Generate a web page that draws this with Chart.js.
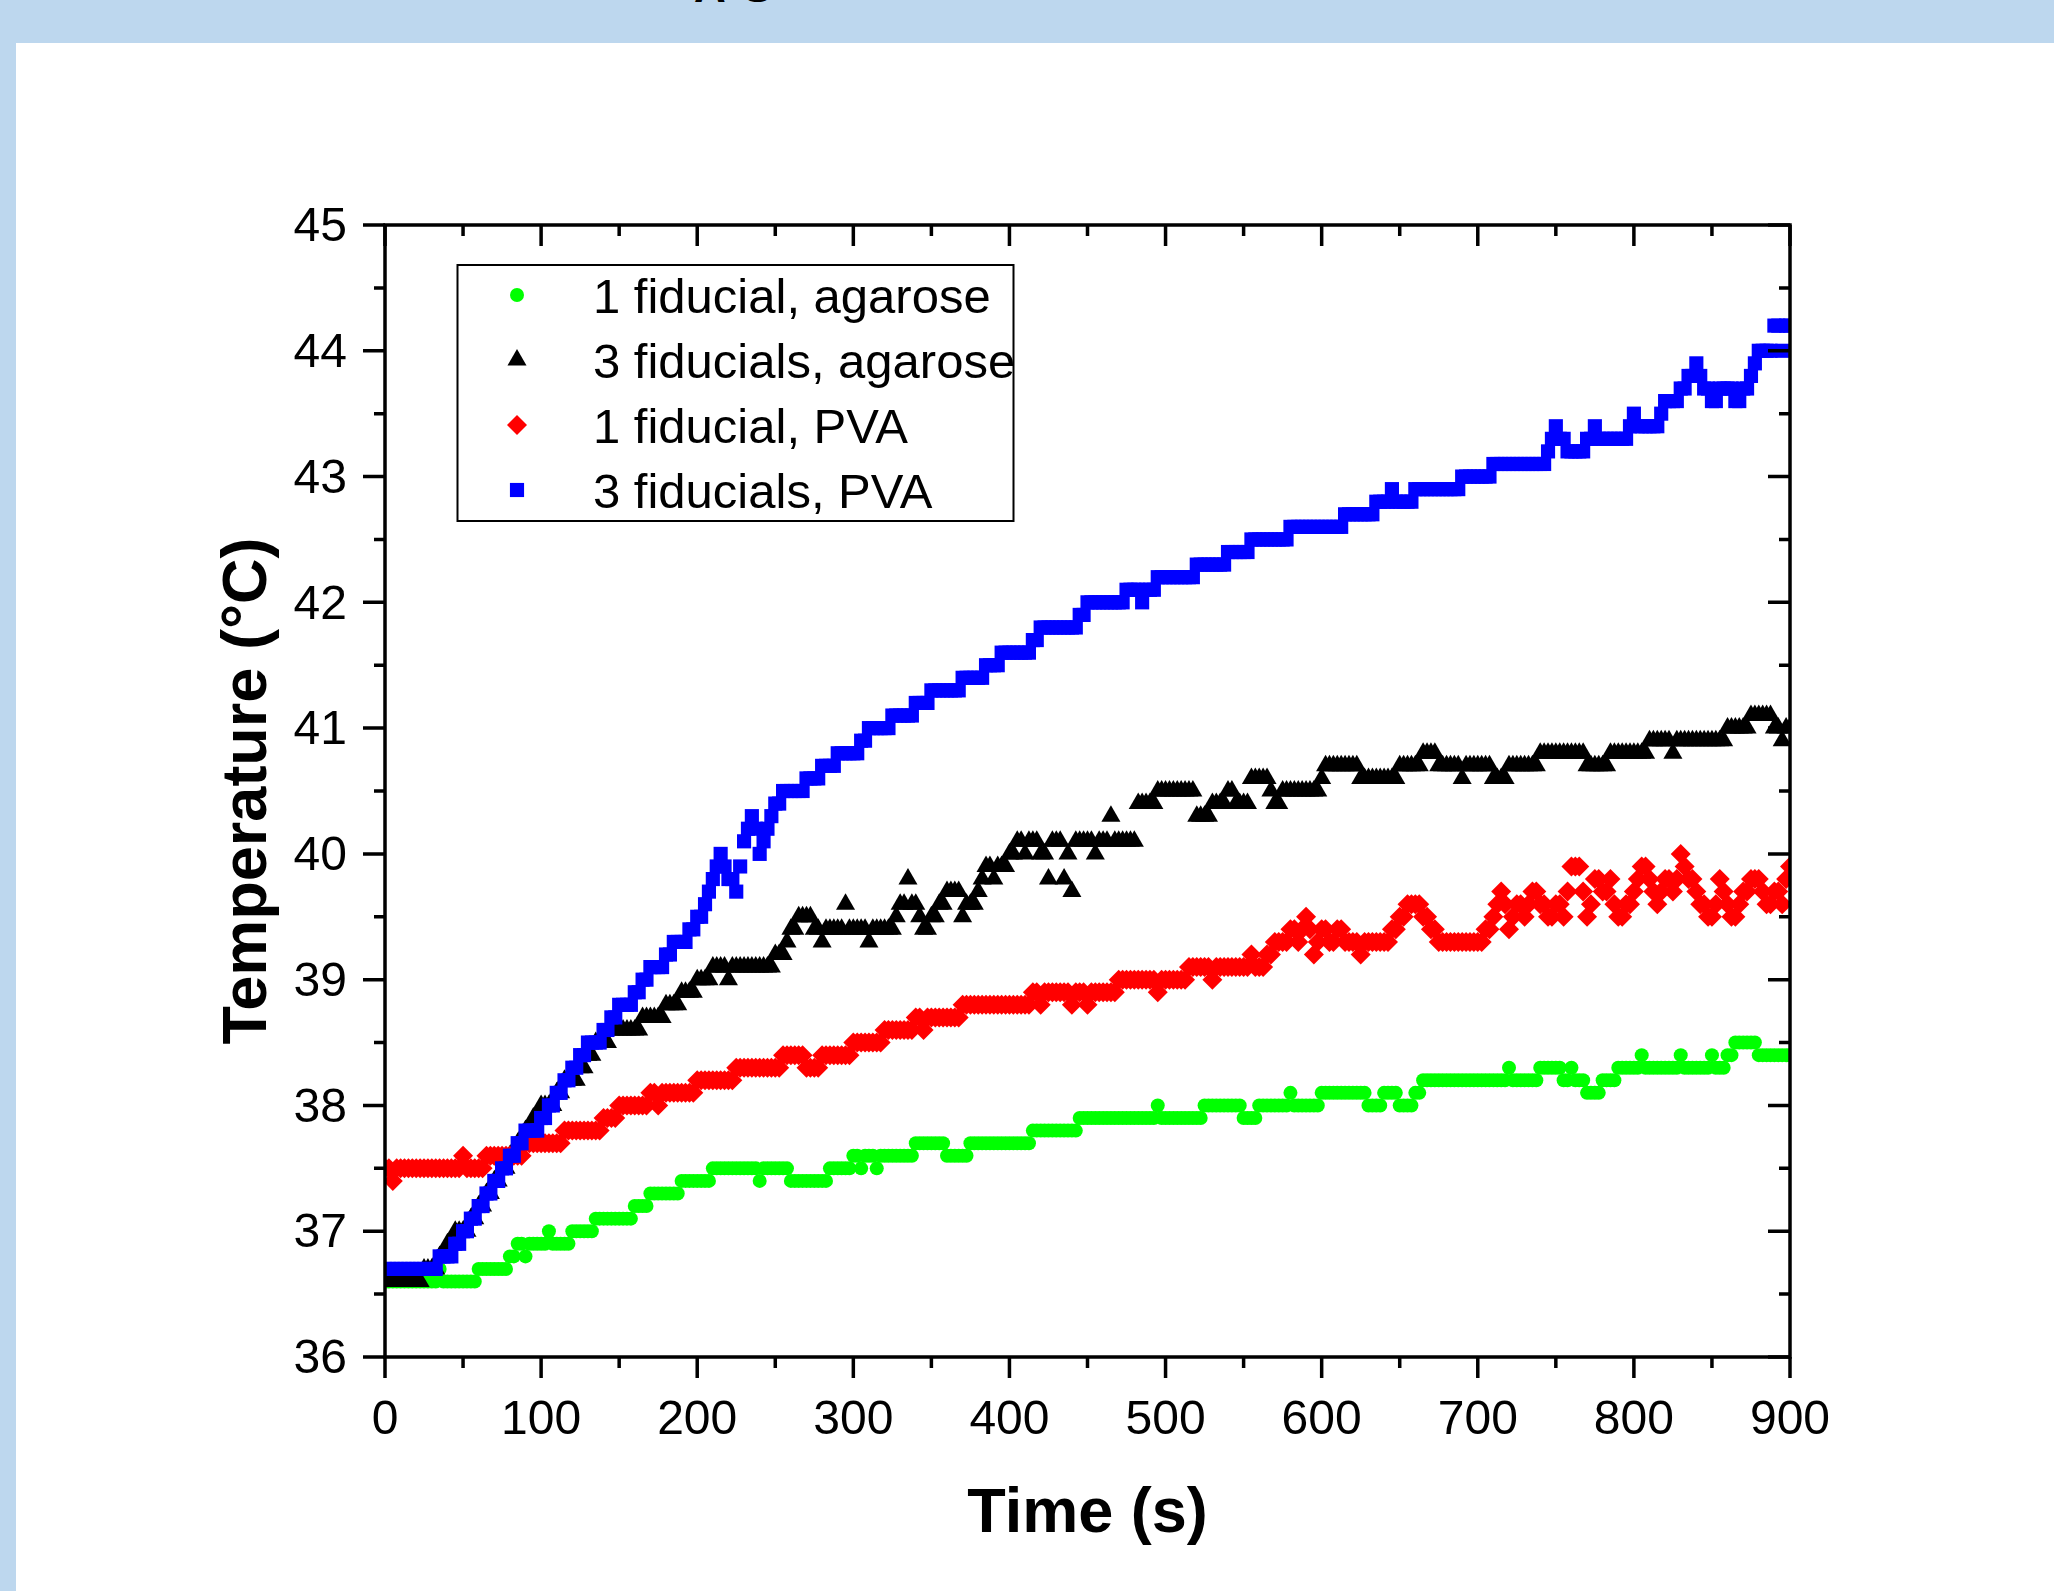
<!DOCTYPE html>
<html>
<head>
<meta charset="utf-8">
<script src="https://cdn.jsdelivr.net/npm/chart.js@4.4.1/dist/chart.umd.min.js"></script>
<style>
  html, body { margin: 0; padding: 0; }
  body { width: 2054px; height: 1591px; background: #bdd7ee; position: relative; overflow: hidden; }
  #sheet { position: absolute; left: 16px; top: 43px; right: 0; bottom: 0; background: #fff; }
  #cut { position: absolute; left: 694px; top: -38px; font: bold 44px "Liberation Sans", Arial, sans-serif; letter-spacing: 17px; color: #000; line-height: 50px; }
  #chart { position: absolute; left: 0; top: 0; }
</style>
</head>
<body>
<div id="sheet"></div>
<div id="cut">AS</div>
<canvas id="chart" width="2054" height="1591"></canvas>
<script>
// sample times (s), one row per minute
var times = [
  0,2.5,5,7.5,10,12.5,15,17.5,20,22.5,25,27.5,30,32.5,35,37.5,40,42.5,45,47.5,50,52.5,55,57.5,
  60,62.5,65,67.5,70,72.5,75,77.5,80,82.5,85,87.5,90,92.5,95,97.5,100,102.5,105,107.5,110,112.5,115,117.5,
  120,122.5,125,127.5,130,132.5,135,137.5,140,142.5,145,147.5,150,152.5,155,157.5,160,162.5,165,167.5,170,172.5,175,177.5,
  180,182.5,185,187.5,190,192.5,195,197.5,200,202.5,205,207.5,210,212.5,215,217.5,220,222.5,225,227.5,230,232.5,235,237.5,
  240,242.5,245,247.5,250,252.5,255,257.5,260,262.5,265,267.5,270,272.5,275,277.5,280,282.5,285,287.5,290,292.5,295,297.5,
  300,302.5,305,307.5,310,312.5,315,317.5,320,322.5,325,327.5,330,332.5,335,337.5,340,342.5,345,347.5,350,352.5,355,357.5,
  360,362.5,365,367.5,370,372.5,375,377.5,380,382.5,385,387.5,390,392.5,395,397.5,400,402.5,405,407.5,410,412.5,415,417.5,
  420,422.5,425,427.5,430,432.5,435,437.5,440,442.5,445,447.5,450,452.5,455,457.5,460,462.5,465,467.5,470,472.5,475,477.5,
  480,482.5,485,487.5,490,492.5,495,497.5,500,502.5,505,507.5,510,512.5,515,517.5,520,522.5,525,527.5,530,532.5,535,537.5,
  540,542.5,545,547.5,550,552.5,555,557.5,560,562.5,565,567.5,570,572.5,575,577.5,580,582.5,585,587.5,590,592.5,595,597.5,
  600,602.5,605,607.5,610,612.5,615,617.5,620,622.5,625,627.5,630,632.5,635,637.5,640,642.5,645,647.5,650,652.5,655,657.5,
  660,662.5,665,667.5,670,672.5,675,677.5,680,682.5,685,687.5,690,692.5,695,697.5,700,702.5,705,707.5,710,712.5,715,717.5,
  720,722.5,725,727.5,730,732.5,735,737.5,740,742.5,745,747.5,750,752.5,755,757.5,760,762.5,765,767.5,770,772.5,775,777.5,
  780,782.5,785,787.5,790,792.5,795,797.5,800,802.5,805,807.5,810,812.5,815,817.5,820,822.5,825,827.5,830,832.5,835,837.5,
  840,842.5,845,847.5,850,852.5,855,857.5,860,862.5,865,867.5,870,872.5,875,877.5,880,882.5,885,887.5,890,892.5,895,897.5,
  900
];

// 1 fiducial, agarose
var oneFidAgarose = [
  36.6,36.6,36.6,36.6,36.6,36.6,36.6,36.6,36.6,36.6,36.6,36.6,36.6,36.6,36.7,36.6,36.6,36.6,36.6,36.6,36.6,36.6,36.6,36.6,
  36.7,36.7,36.7,36.7,36.7,36.7,36.7,36.7,36.8,36.8,36.9,36.9,36.8,36.9,36.9,36.9,36.9,36.9,37.0,36.9,36.9,36.9,36.9,36.9,
  37.0,37.0,37.0,37.0,37.0,37.0,37.1,37.1,37.1,37.1,37.1,37.1,37.1,37.1,37.1,37.1,37.2,37.2,37.2,37.2,37.3,37.3,37.3,37.3,
  37.3,37.3,37.3,37.3,37.4,37.4,37.4,37.4,37.4,37.4,37.4,37.4,37.5,37.5,37.5,37.5,37.5,37.5,37.5,37.5,37.5,37.5,37.5,37.5,
  37.4,37.5,37.5,37.5,37.5,37.5,37.5,37.5,37.4,37.4,37.4,37.4,37.4,37.4,37.4,37.4,37.4,37.4,37.5,37.5,37.5,37.5,37.5,37.5,
  37.6,37.6,37.5,37.6,37.6,37.6,37.5,37.6,37.6,37.6,37.6,37.6,37.6,37.6,37.6,37.6,37.7,37.7,37.7,37.7,37.7,37.7,37.7,37.7,
  37.6,37.6,37.6,37.6,37.6,37.6,37.7,37.7,37.7,37.7,37.7,37.7,37.7,37.7,37.7,37.7,37.7,37.7,37.7,37.7,37.7,37.7,37.8,37.8,
  37.8,37.8,37.8,37.8,37.8,37.8,37.8,37.8,37.8,37.8,37.9,37.9,37.9,37.9,37.9,37.9,37.9,37.9,37.9,37.9,37.9,37.9,37.9,37.9,
  37.9,37.9,37.9,37.9,37.9,37.9,38.0,37.9,37.9,37.9,37.9,37.9,37.9,37.9,37.9,37.9,37.9,37.9,38.0,38.0,38.0,38.0,38.0,38.0,
  38.0,38.0,38.0,38.0,37.9,37.9,37.9,37.9,38.0,38.0,38.0,38.0,38.0,38.0,38.0,38.0,38.1,38.0,38.0,38.0,38.0,38.0,38.0,38.0,
  38.1,38.1,38.1,38.1,38.1,38.1,38.1,38.1,38.1,38.1,38.1,38.1,38.0,38.0,38.0,38.0,38.1,38.1,38.1,38.1,38.0,38.0,38.0,38.0,
  38.1,38.1,38.2,38.2,38.2,38.2,38.2,38.2,38.2,38.2,38.2,38.2,38.2,38.2,38.2,38.2,38.2,38.2,38.2,38.2,38.2,38.2,38.2,38.2,
  38.3,38.2,38.2,38.2,38.2,38.2,38.2,38.2,38.3,38.3,38.3,38.3,38.3,38.3,38.2,38.2,38.3,38.2,38.2,38.2,38.1,38.1,38.1,38.1,
  38.2,38.2,38.2,38.2,38.3,38.3,38.3,38.3,38.3,38.3,38.4,38.3,38.3,38.3,38.3,38.3,38.3,38.3,38.3,38.3,38.4,38.3,38.3,38.3,
  38.3,38.3,38.3,38.3,38.4,38.3,38.3,38.3,38.4,38.4,38.5,38.5,38.5,38.5,38.5,38.5,38.4,38.4,38.4,38.4,38.4,38.4,38.4,38.4,
  38.4
];

// 3 fiducials, agarose
var threeFidAgarose = [
  36.6,36.6,36.6,36.6,36.6,36.6,36.6,36.6,36.6,36.6,36.7,36.7,36.7,36.7,36.8,36.8,36.9,36.9,37.0,37.0,37.0,37.0,37.1,37.1,
  37.2,37.2,37.3,37.3,37.4,37.4,37.5,37.5,37.6,37.6,37.7,37.7,37.8,37.8,37.9,37.9,38.0,38.0,38.0,38.0,38.1,38.1,38.2,38.2,
  38.2,38.2,38.3,38.3,38.4,38.4,38.5,38.5,38.5,38.5,38.6,38.6,38.6,38.6,38.6,38.6,38.6,38.6,38.7,38.7,38.7,38.7,38.7,38.7,
  38.8,38.8,38.8,38.8,38.9,38.9,38.9,38.9,39.0,39.0,39.0,39.0,39.1,39.1,39.1,39.1,39.0,39.1,39.1,39.1,39.1,39.1,39.1,39.1,
  39.1,39.1,39.1,39.1,39.2,39.2,39.2,39.3,39.4,39.4,39.5,39.5,39.5,39.5,39.4,39.4,39.3,39.4,39.4,39.4,39.4,39.4,39.6,39.4,
  39.4,39.4,39.4,39.4,39.3,39.4,39.4,39.4,39.4,39.4,39.4,39.5,39.6,39.6,39.8,39.6,39.6,39.5,39.4,39.4,39.5,39.5,39.6,39.6,
  39.7,39.7,39.7,39.7,39.5,39.6,39.6,39.6,39.7,39.8,39.9,39.9,39.8,39.9,39.9,39.9,40.0,40.0,40.1,40.1,40.0,40.1,40.1,40.1,
  40.0,40.0,39.8,40.1,40.1,40.1,39.8,40.0,39.7,40.1,40.1,40.1,40.1,40.1,40.0,40.1,40.1,40.1,40.3,40.1,40.1,40.1,40.1,40.1,
  40.1,40.4,40.4,40.4,40.4,40.4,40.5,40.5,40.5,40.5,40.5,40.5,40.5,40.5,40.5,40.5,40.3,40.3,40.3,40.3,40.4,40.4,40.4,40.4,
  40.5,40.5,40.4,40.4,40.4,40.4,40.6,40.6,40.6,40.6,40.6,40.5,40.4,40.4,40.5,40.5,40.5,40.5,40.5,40.5,40.5,40.5,40.5,40.5,
  40.6,40.7,40.7,40.7,40.7,40.7,40.7,40.7,40.7,40.7,40.6,40.6,40.6,40.6,40.6,40.6,40.6,40.6,40.6,40.6,40.7,40.7,40.7,40.7,
  40.7,40.7,40.8,40.8,40.8,40.8,40.7,40.7,40.7,40.7,40.7,40.7,40.6,40.7,40.7,40.7,40.7,40.7,40.7,40.7,40.6,40.6,40.6,40.6,
  40.7,40.7,40.7,40.7,40.7,40.7,40.7,40.7,40.8,40.8,40.8,40.8,40.8,40.8,40.8,40.8,40.8,40.8,40.8,40.8,40.7,40.7,40.7,40.7,
  40.7,40.7,40.8,40.8,40.8,40.8,40.8,40.8,40.8,40.8,40.8,40.8,40.9,40.9,40.9,40.9,40.9,40.9,40.8,40.9,40.9,40.9,40.9,40.9,
  40.9,40.9,40.9,40.9,40.9,40.9,40.9,40.9,41.0,41.0,41.0,41.0,41.0,41.0,41.1,41.1,41.1,41.1,41.1,41.1,41.0,41.0,40.9,41.0,
  41.0
];

// 1 fiducial, PVA
var oneFidPva = [
  37.5,37.5,37.4,37.5,37.5,37.5,37.5,37.5,37.5,37.5,37.5,37.5,37.5,37.5,37.5,37.5,37.5,37.5,37.5,37.5,37.6,37.5,37.5,37.5,
  37.5,37.5,37.6,37.6,37.6,37.6,37.6,37.6,37.6,37.6,37.6,37.6,37.7,37.7,37.7,37.7,37.7,37.7,37.7,37.7,37.7,37.7,37.8,37.8,
  37.8,37.8,37.8,37.8,37.8,37.8,37.8,37.8,37.9,37.9,37.9,37.9,38.0,38.0,38.0,38.0,38.0,38.0,38.0,38.0,38.1,38.1,38.0,38.1,
  38.1,38.1,38.1,38.1,38.1,38.1,38.1,38.1,38.2,38.2,38.2,38.2,38.2,38.2,38.2,38.2,38.2,38.2,38.3,38.3,38.3,38.3,38.3,38.3,
  38.3,38.3,38.3,38.3,38.3,38.3,38.4,38.4,38.4,38.4,38.4,38.4,38.3,38.3,38.3,38.3,38.4,38.4,38.4,38.4,38.4,38.4,38.4,38.4,
  38.5,38.5,38.5,38.5,38.5,38.5,38.5,38.5,38.6,38.6,38.6,38.6,38.6,38.6,38.6,38.6,38.7,38.7,38.6,38.7,38.7,38.7,38.7,38.7,
  38.7,38.7,38.7,38.7,38.8,38.8,38.8,38.8,38.8,38.8,38.8,38.8,38.8,38.8,38.8,38.8,38.8,38.8,38.8,38.8,38.8,38.8,38.9,38.9,
  38.8,38.9,38.9,38.9,38.9,38.9,38.9,38.9,38.8,38.9,38.9,38.9,38.8,38.9,38.9,38.9,38.9,38.9,38.9,38.9,39.0,39.0,39.0,39.0,
  39.0,39.0,39.0,39.0,39.0,39.0,38.9,39.0,39.0,39.0,39.0,39.0,39.0,39.0,39.1,39.1,39.1,39.1,39.1,39.1,39.0,39.1,39.1,39.1,
  39.1,39.1,39.1,39.1,39.1,39.1,39.2,39.1,39.1,39.1,39.2,39.2,39.3,39.3,39.3,39.3,39.4,39.4,39.3,39.4,39.5,39.4,39.2,39.3,
  39.4,39.4,39.3,39.3,39.4,39.4,39.3,39.3,39.3,39.3,39.2,39.3,39.3,39.3,39.3,39.3,39.3,39.3,39.4,39.4,39.5,39.5,39.6,39.6,
  39.6,39.6,39.5,39.5,39.4,39.4,39.3,39.3,39.3,39.3,39.3,39.3,39.3,39.3,39.3,39.3,39.3,39.3,39.4,39.4,39.5,39.6,39.7,39.6,
  39.4,39.5,39.6,39.6,39.5,39.6,39.7,39.7,39.6,39.6,39.5,39.5,39.6,39.6,39.5,39.7,39.9,39.9,39.9,39.7,39.5,39.6,39.8,39.8,
  39.7,39.7,39.8,39.6,39.5,39.5,39.6,39.6,39.7,39.8,39.9,39.9,39.8,39.7,39.6,39.7,39.8,39.8,39.7,39.8,40.0,39.9,39.8,39.8,
  39.7,39.6,39.6,39.5,39.5,39.6,39.8,39.7,39.6,39.5,39.5,39.6,39.7,39.7,39.8,39.8,39.8,39.7,39.6,39.6,39.7,39.7,39.6,39.8,
  39.9
];

// 3 fiducials, PVA
var threeFidPva = [
  36.7,36.7,36.7,36.7,36.7,36.7,36.7,36.7,36.7,36.7,36.7,36.7,36.7,36.7,36.8,36.8,36.8,36.8,36.9,36.9,37.0,37.0,37.1,37.1,
  37.2,37.2,37.3,37.3,37.4,37.4,37.5,37.5,37.6,37.6,37.7,37.7,37.8,37.8,37.8,37.8,37.9,37.9,38.0,38.0,38.1,38.1,38.2,38.2,
  38.3,38.3,38.4,38.4,38.5,38.5,38.5,38.5,38.6,38.6,38.7,38.7,38.8,38.8,38.8,38.8,38.9,38.9,39.0,39.0,39.1,39.1,39.1,39.1,
  39.2,39.2,39.3,39.3,39.3,39.3,39.4,39.4,39.5,39.5,39.6,39.7,39.8,39.9,40.0,39.9,39.8,39.8,39.7,39.9,40.1,40.2,40.3,40.2,
  40.0,40.1,40.2,40.3,40.4,40.4,40.5,40.5,40.5,40.5,40.5,40.5,40.6,40.6,40.6,40.6,40.7,40.7,40.7,40.7,40.8,40.8,40.8,40.8,
  40.8,40.8,40.9,40.9,41.0,41.0,41.0,41.0,41.0,41.0,41.1,41.1,41.1,41.1,41.1,41.1,41.2,41.2,41.2,41.2,41.3,41.3,41.3,41.3,
  41.3,41.3,41.3,41.3,41.4,41.4,41.4,41.4,41.4,41.4,41.5,41.5,41.5,41.5,41.6,41.6,41.6,41.6,41.6,41.6,41.6,41.6,41.7,41.7,
  41.8,41.8,41.8,41.8,41.8,41.8,41.8,41.8,41.8,41.8,41.9,41.9,42.0,42.0,42.0,42.0,42.0,42.0,42.0,42.0,42.0,42.0,42.1,42.1,
  42.1,42.1,42.0,42.1,42.1,42.1,42.2,42.2,42.2,42.2,42.2,42.2,42.2,42.2,42.2,42.2,42.3,42.3,42.3,42.3,42.3,42.3,42.3,42.3,
  42.4,42.4,42.4,42.4,42.4,42.4,42.5,42.5,42.5,42.5,42.5,42.5,42.5,42.5,42.5,42.5,42.6,42.6,42.6,42.6,42.6,42.6,42.6,42.6,
  42.6,42.6,42.6,42.6,42.6,42.6,42.7,42.7,42.7,42.7,42.7,42.7,42.7,42.7,42.8,42.8,42.8,42.8,42.9,42.8,42.8,42.8,42.8,42.8,
  42.9,42.9,42.9,42.9,42.9,42.9,42.9,42.9,42.9,42.9,42.9,42.9,43.0,43.0,43.0,43.0,43.0,43.0,43.0,43.0,43.1,43.1,43.1,43.1,
  43.1,43.1,43.1,43.1,43.1,43.1,43.1,43.1,43.1,43.1,43.2,43.3,43.4,43.3,43.3,43.2,43.2,43.2,43.2,43.2,43.3,43.3,43.4,43.3,
  43.3,43.3,43.3,43.3,43.3,43.3,43.3,43.4,43.5,43.4,43.4,43.4,43.4,43.4,43.4,43.5,43.6,43.6,43.6,43.6,43.7,43.7,43.8,43.8,
  43.9,43.8,43.7,43.7,43.6,43.6,43.7,43.7,43.7,43.7,43.6,43.6,43.7,43.7,43.8,43.9,44.0,44.0,44.0,44.0,44.2,44.2,44.0,44.2,
  44.2
];

// axis ticks
var xTicks = [0, 100, 200, 300, 400, 500, 600, 700, 800, 900];
var xMinorTicks = [50, 150, 250, 350, 450, 550, 650, 750, 850];
var yTicks = [36, 37, 38, 39, 40, 41, 42, 43, 44, 45];
var yMinorTicks = [36.5, 37.5, 38.5, 39.5, 40.5, 41.5, 42.5, 43.5, 44.5];

var seriesNames = ['1 fiducial, agarose', '3 fiducials, agarose', '1 fiducial, PVA', '3 fiducials, PVA'];

var FONT = "'Liberation Sans', Arial, sans-serif";

function toPoints(vals) {
    return times.map(function(t, i) { return { x: t, y: vals[i] }; });
}

// frame with inner/outer ticks like the original plot
var framePlugin = {
    id: 'frame',
    afterDatasetsDraw: function(chart) {
        var ctx = chart.ctx, a = chart.chartArea;
        var xs = chart.scales.x, ys = chart.scales.y;
        ctx.save();
        ctx.strokeStyle = '#000';
        ctx.lineWidth = 3.5;
        ctx.lineCap = 'square';
        ctx.strokeRect(a.left, a.top, a.right - a.left, a.bottom - a.top);
        ctx.lineCap = 'butt';
        ctx.beginPath();
        function xTick(v, len) {
            var px = xs.getPixelForValue(v);
            ctx.moveTo(px, a.bottom); ctx.lineTo(px, a.bottom + len);  // bottom, outward
            ctx.moveTo(px, a.top); ctx.lineTo(px, a.top + len);        // top, inward
        }
        function yTick(v, len) {
            var py = ys.getPixelForValue(v);
            ctx.moveTo(a.left, py); ctx.lineTo(a.left - len, py);      // left, outward
            ctx.moveTo(a.right, py); ctx.lineTo(a.right - len, py);    // right, inward
        }
        xTicks.forEach(function(v) { xTick(v, 21); });
        xMinorTicks.forEach(function(v) { xTick(v, 11); });
        yTicks.forEach(function(v) { yTick(v, 22); });
        yMinorTicks.forEach(function(v) { yTick(v, 11); });
        ctx.stroke();
        ctx.restore();
    }
};

// legend box inside the plot
var legendPlugin = {
    id: 'boxLegend',
    afterDraw: function(chart) {
        var ctx = chart.ctx;
        ctx.save();
        ctx.strokeStyle = '#000';
        ctx.lineWidth = 2;
        ctx.strokeRect(457.5, 265, 556, 256);
        ctx.font = '49px ' + FONT;
        ctx.textBaseline = 'alphabetic';
        chart.data.datasets.forEach(function(ds, i) {
            var base = 313 + i * 65;
            ctx.fillStyle = ds.pointBackgroundColor;
            Chart.helpers.drawPoint(ctx, {
                pointStyle: ds.pointStyle,
                radius: ds.pointRadius,
                rotation: 0,
                borderWidth: 0
            }, 517, base - 18);
            ctx.fillStyle = '#000';
            ctx.fillText(seriesNames[i], 593, base);
        });
        ctx.restore();
    }
};

function makeSet(i, vals, color, style, radius, order) {
    return {
        label: seriesNames[i],
        data: toPoints(vals),
        pointStyle: style,
        pointRadius: radius,
        pointBackgroundColor: color,
        pointBorderColor: color,
        pointBorderWidth: 0,
        showLine: false,
        clip: 0,
        order: order
    };
}

var ctx = document.getElementById('chart').getContext('2d');
var chart = new Chart(ctx, {
    type: 'scatter',
    data: {
        datasets: [
            makeSet(0, oneFidAgarose, '#00ff00', 'circle', 7, 4),
            makeSet(1, threeFidAgarose, '#000000', 'triangle', 11, 3),
            makeSet(2, oneFidPva, '#ff0000', 'rectRot', 10, 2),
            makeSet(3, threeFidPva, '#0000ff', 'rect', 10, 1)
        ]
    },
    options: {
        responsive: false,
        animation: false,
        devicePixelRatio: 1,
        events: [],
        layout: { padding: { left: 0, right: 264, top: 225, bottom: 0 } },
        plugins: {
            legend: { display: false },
            tooltip: { enabled: false }
        },
        scales: {
            x: {
                type: 'linear',
                position: 'bottom',
                min: 0,
                max: 900,
                grid: { display: false, drawTicks: false },
                border: { display: false },
                afterBuildTicks: function(s) { s.ticks = xTicks.map(function(v) { return { value: v }; }); },
                ticks: { padding: 35, color: '#000', maxRotation: 0, autoSkip: false, font: { family: FONT, size: 48 } },
                title: { display: true, text: 'Time (s)', color: '#000', font: { family: FONT, size: 63, weight: 'bold' }, padding: { top: 0, bottom: 39 } },
                afterFit: function(s) { s.height = 234; }
            },
            y: {
                type: 'linear',
                position: 'left',
                min: 36,
                max: 45,
                grid: { display: false, drawTicks: false },
                border: { display: false },
                afterBuildTicks: function(s) { s.ticks = yTicks.map(function(v) { return { value: v }; }); },
                ticks: { padding: 38, labelOffset: 3, color: '#000', autoSkip: false, font: { family: FONT, size: 48 } },
                title: { display: true, text: 'Temperature (°C)', color: '#000', font: { family: FONT, size: 63, weight: 'bold' }, padding: { top: 211, bottom: 0 } },
                afterFit: function(s) { s.width = 385; }
            }
        }
    },
    plugins: [framePlugin, legendPlugin]
});
</script>
</body>
</html>
